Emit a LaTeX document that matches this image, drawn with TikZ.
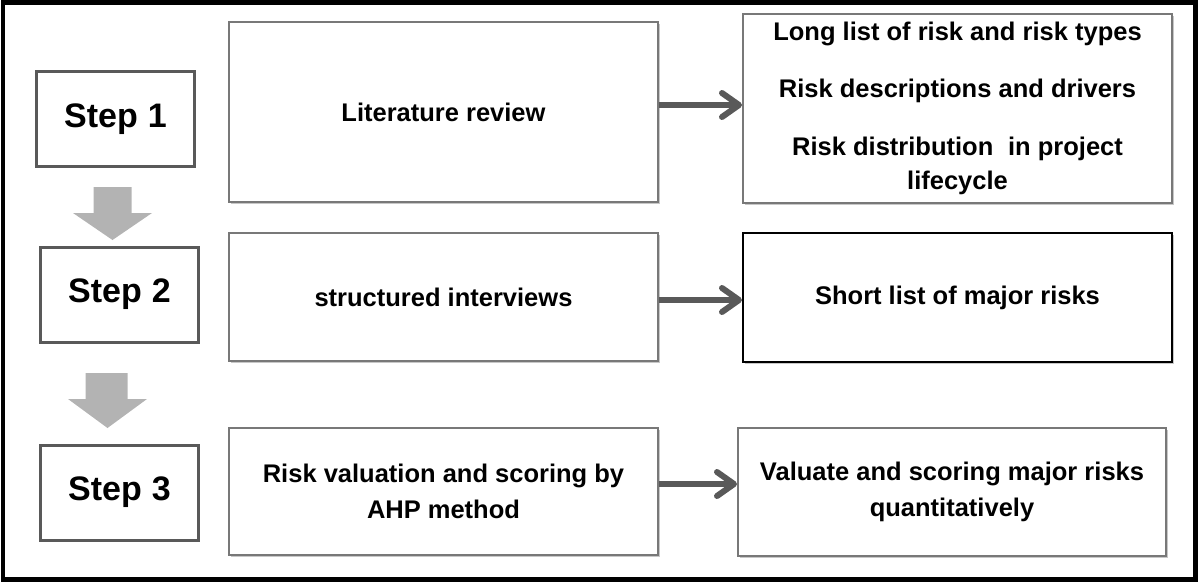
\documentclass[tikz,border=0pt]{standalone}
\usepackage{fontspec}
\setmainfont{Liberation Sans}
\usetikzlibrary{arrows.meta,shadows}
\definecolor{stepgray}{RGB}{89,89,89}
\definecolor{boxgray}{RGB}{120,120,120}
\definecolor{arrgray}{RGB}{89,89,89}
\definecolor{blockgray}{RGB}{179,179,179}
\begin{document}
\begin{tikzpicture}[x=1pt,y=-1pt,
  softshadow/.style={drop shadow={shadow xshift=1.5pt,shadow yshift=-1.5pt,fill=black,opacity=0.22}},
  stepbox/.style={draw=stepgray,line width=3pt,fill=white,minimum width=158pt,minimum height=95pt,inner sep=0pt,
    font=\fontsize{34}{36}\selectfont\bfseries},
  midbox/.style={draw=boxgray,line width=2pt,fill=white,inner sep=0pt,align=center,softshadow,
    font=\fontsize{25.5}{36}\selectfont\bfseries},
  conn/.style={draw=arrgray,line width=6pt,-{Straight Barb[length=17pt,width=24pt,round]}},
  blockarrow/.style={fill=blockgray,draw=none}
]
\useasboundingbox (0,0) rectangle (1198,582);
\draw[black,line width=4.5pt] (3,2.5) rectangle (1195.5,579.5);

% step boxes
\node[stepbox] (s1) at (115.5,119) {Step\hspace{0.3em}1};
\node[stepbox] (s2) at (119.5,294.5) {Step\hspace{0.3em}2};
\node[stepbox] (s3) at (119.5,492.5) {Step\hspace{0.3em}3};

% block arrows between steps
\fill[blockarrow] (93.5,187) -- (131.5,187) -- (131.5,213) -- (152,213) -- (112.5,240) -- (73,213) -- (93.5,213) -- cycle;
\fill[blockarrow] (85.5,373) -- (127.5,373) -- (127.5,399) -- (147,399) -- (107.5,428) -- (68,399) -- (85.5,399) -- cycle;

% middle boxes
\node[midbox,minimum width=429pt,minimum height=180pt] (lit) at (443.5,112) {Literature review};
\node[midbox,minimum width=429pt,minimum height=128pt] (int) at (443.5,297) {structured interviews};
\node[midbox,minimum width=429pt,minimum height=127pt] (ahp) at (443.5,491.5) {Risk valuation and scoring by\\AHP method};

% right boxes
\node[midbox,minimum width=429pt,minimum height=189pt,font=\fontsize{25.5}{34}\selectfont\bfseries] (r1) at (957.5,108.5)
  {Long list of risk and risk types\\[23pt]Risk descriptions and drivers\\[24pt]Risk distribution\hspace{0.3em} in project\\lifecycle};
\node[midbox,draw=black,minimum width=429pt,minimum height=129pt] (r2) at (957.5,297.5) {Short list of major risks};
\node[midbox,minimum width=428pt,minimum height=128pt] (r3) at (952,492) {Valuate and scoring major risks\\quantitatively};

% connectors
\draw[conn] ([yshift=7pt]lit.east) -- ([yshift=3.5pt]r1.west);
\draw[conn] ([yshift=-3pt]int.east) -- ([yshift=-2.5pt]r2.west);
\draw[conn] ([yshift=7.5pt]ahp.east) -- ([yshift=8pt]r3.west);
\end{tikzpicture}
\end{document}
